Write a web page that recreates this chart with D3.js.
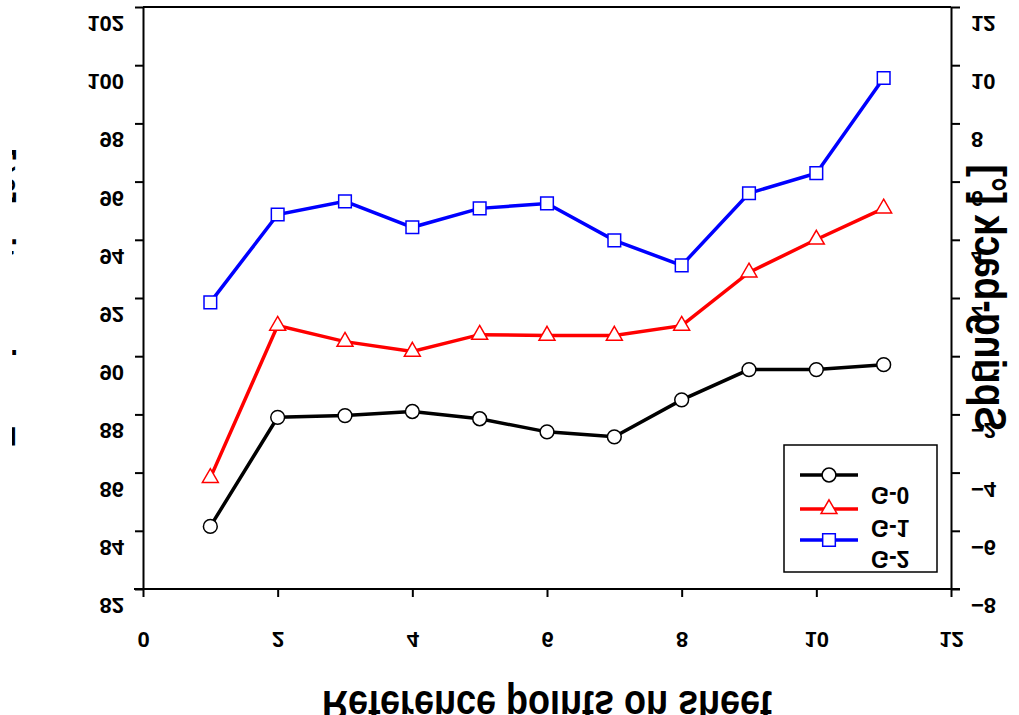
<!DOCTYPE html>
<html><head><meta charset="utf-8">
<script src="https://cdn.jsdelivr.net/npm/d3@7/dist/d3.min.js"></script>
<style>
body{margin:0;background:#fff;}
svg{display:block;}
text{font-family:Arial,"Liberation Sans",sans-serif;font-weight:bold;fill:#000;}
</style></head>
<body><svg id="c" width="1019" height="715"></svg>
<script>
const xs = [1,2,3,4,5,6,7,8,9,10,11];
const g0 = [84.15,87.9,87.96,88.1,87.85,87.4,87.23,88.5,89.54,89.54,89.71];
const g1 = [85.82,91.05,90.5,90.16,90.74,90.71,90.71,91.05,92.88,94.01,95.08];
const g2 = [91.85,94.87,95.32,94.43,95.08,95.25,93.98,93.12,95.6,96.29,99.56];
const seriesNames = ["G-0","G-1","G-2"];
const xTicks = [0,2,4,6,8,10,12];
const yLeftTicks = [82,84,86,88,90,92,94,96,98,100,102];
const yRightTicks = [-8,-6,-4,-2,0,2,4,6,8,10,12];
const xTitle = "Reference points on sheet";
const yLeftTitle = "Forming ratio [%]";
const yRightTitle = "Spring-back [°]";

const svg = d3.select("#c");
const L=143, R=951, T=7, B=589;
const x = d3.scaleLinear().domain([0,12]).range([L,R]);
const yL = d3.scaleLinear().domain([82,102]).range([B,T]);
const yR = d3.scaleLinear().domain([-8,12]).range([B,T]);

function flipText(sel, dx, dy, anchor){
  sel.attr("x",null).attr("y",null).attr("dy",null).attr("dx",null)
     .attr("text-anchor",anchor)
     .attr("transform",`translate(${dx},${dy}) scale(1,-1)`)
     .style("font-size","22px").style("font-weight","bold")
     .style("font-family","Arial, 'Liberation Sans', sans-serif");
}

svg.append("defs").append("clipPath").attr("id","leftClip")
  .append("rect").attr("x",12).attr("y",0).attr("width",10).attr("height",715);

// frame top
svg.append("line").attr("x1",L).attr("x2",R).attr("y1",T).attr("y2",T)
  .attr("stroke","#000").attr("stroke-width",2);

const ax = svg.append("g").attr("transform",`translate(0,${B})`)
  .call(d3.axisBottom(x).tickValues(xTicks).tickSize(8).tickSizeOuter(0).tickFormat(d3.format("d")));
flipText(ax.selectAll(".tick text"), 0, 43, "middle");

const al = svg.append("g").attr("transform",`translate(${L},0)`)
  .call(d3.axisLeft(yL).tickValues(yLeftTicks).tickSize(8).tickSizeOuter(0).tickFormat(d3.format("d")));
flipText(al.selectAll(".tick text"), -19, 8.5, "end");

const ar = svg.append("g").attr("transform",`translate(${R},0)`)
  .call(d3.axisRight(yR).tickValues(yRightTicks).tickSize(9).tickSizeOuter(0).tickFormat(d3.format("d")));
flipText(ar.selectAll(".tick text"), 20, 8.5, "start");

[ax,al,ar].forEach(a=>{
  a.selectAll("path.domain").attr("stroke","#000").attr("stroke-width",2);
  a.selectAll(".tick line").attr("stroke","#000").attr("stroke-width",2);
});
ax.select("path.domain").attr("d",`M${L-9},0H${R+9}`);

// titles
svg.append("text").text(xTitle)
  .attr("text-anchor","middle")
  .attr("textLength",450).attr("lengthAdjust","spacingAndGlyphs")
  .attr("transform",`translate(${(L+R)/2},691) scale(1,-1)`)
  .style("font-size","42px");
svg.append("text").text(yRightTitle)
  .attr("text-anchor","middle")
  .attr("textLength",267).attr("lengthAdjust","spacingAndGlyphs")
  .attr("transform",`translate(975,298) rotate(-90) scale(1,-1)`)
  .style("font-size","44px");
svg.append("g").attr("clip-path","url(#leftClip)")
  .append("text").text(yLeftTitle)
  .attr("text-anchor","middle")
  .attr("textLength",300).attr("lengthAdjust","spacingAndGlyphs")
  .attr("transform",`translate(-11,298) rotate(-90) scale(1,-1)`)
  .style("font-size","36px");

// series
const series = [
  {name:seriesNames[0], vals:g0, color:"#000000", sym:d3.symbolCircle, size:150},
  {name:seriesNames[1], vals:g1, color:"#ff0000", sym:d3.symbolTriangle, size:110},
  {name:seriesNames[2], vals:g2, color:"#0000ff", sym:d3.symbolSquare, size:160}
];
const line = d3.line().x(d=>x(d[0])).y(d=>yL(d[1]));
series.forEach(s=>{
  const pts = xs.map((v,i)=>[v,s.vals[i]]);
  svg.append("path").datum(pts).attr("d",line).attr("fill","none")
    .attr("stroke",s.color).attr("stroke-width",3.5);
  svg.selectAll(null).data(pts).enter().append("path")
    .attr("d",d3.symbol().type(s.sym).size(s.size))
    .attr("transform",d=>`translate(${x(d[0])},${yL(d[1])})`)
    .attr("fill","#fff").attr("stroke",s.color).attr("stroke-width",1.5);
});

// legend
const lg = svg.append("g");
lg.append("rect").attr("x",784).attr("y",445).attr("width",153).attr("height",127)
  .attr("fill","#fff").attr("stroke","#000").attr("stroke-width",1.5);
const ly = [475,509,540];
const lty = [487,520,551];
series.forEach((s,i)=>{
  lg.append("line").attr("x1",800).attr("x2",858).attr("y1",ly[i]).attr("y2",ly[i])
    .attr("stroke",s.color).attr("stroke-width",3.5);
  lg.append("path").attr("d",d3.symbol().type(s.sym).size(s.size))
    .attr("transform",`translate(829,${ly[i]})`)
    .attr("fill","#fff").attr("stroke",s.color).attr("stroke-width",1.5);
  lg.append("text").text(s.name)
    .attr("transform",`translate(871,${lty[i]}) scale(1,-1)`)
    .style("font-size","23px");
});
</script></body></html>
